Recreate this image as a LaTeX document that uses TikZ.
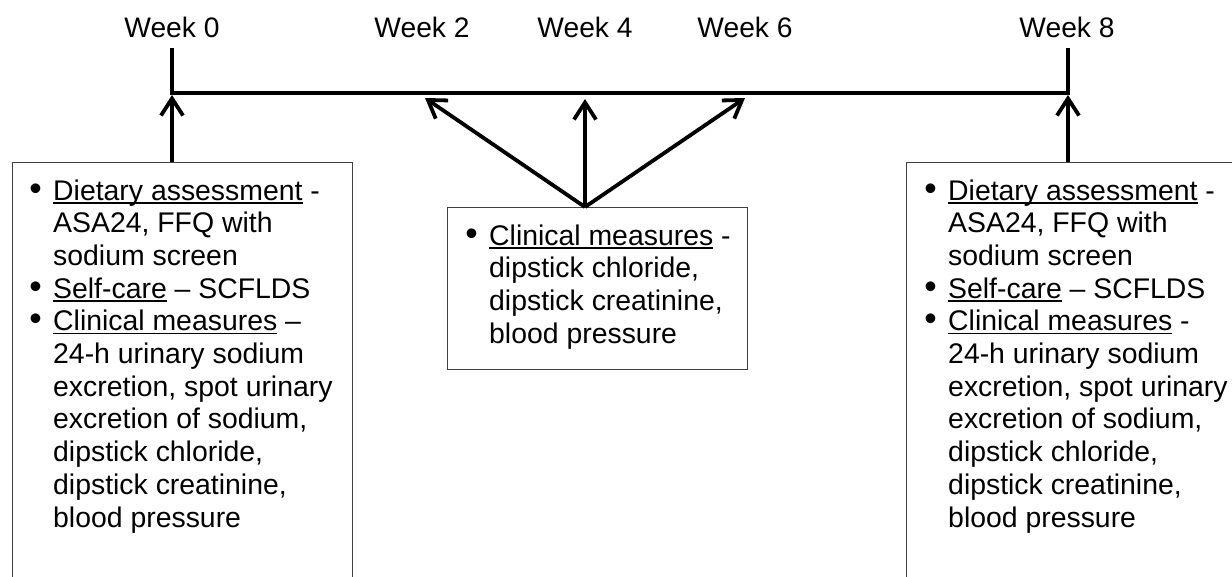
\documentclass[tikz,border=0pt]{standalone}
\usepackage{fontspec}
\setmainfont{Liberation Sans}
\usetikzlibrary{arrows.meta,calc}
\newsavebox\ulbox
\newcommand\myul[1]{\sbox\ulbox{#1}\rlap{\rule[-3.6pt]{\wd\ulbox}{1.8pt}}\usebox\ulbox}
\newcommand\bul{\makebox[17.5pt][l]{\makebox[0pt][c]{\scalebox{1.25}{\textbullet}}}}
\begin{document}
\begin{tikzpicture}[x=1pt,y=-1pt,
  lbl/.style={font=\fontsize{28.2}{32.7}\selectfont, inner sep=0pt, anchor=base},
  txt/.style={font=\fontsize{28.4}{32.7}\selectfont, inner sep=0pt, anchor=base west},
  frame/.style={draw=black!75, line width=1.3pt, rectangle, inner sep=0pt, anchor=north west},
  axis/.style={line width=3.8pt},
  arr/.style={line width=3.8pt, -{Straight Barb[length=17pt,width=22pt]}}
]
\useasboundingbox (0,0) rectangle (1232,576);
\clip (0,0) rectangle (1232,576);

% week labels
\node[lbl] (w0) at (172,37) {Week 0};
\node[lbl] (w2) at (422,37) {Week 2};
\node[lbl] (w4) at (585,37) {Week 4};
\node[lbl] (w6) at (745,37) {Week 6};
\node[lbl] (w8) at (1067,37) {Week 8};

% timeline
\coordinate (t0) at (172,48);
\coordinate (c0) at (172,93);
\coordinate (c8) at (1068,93);
\coordinate (t8) at (1068,48);
\draw[axis] (t0) -- (c0) -- (c8) -- (t8);

% arrow tips on the timeline
\coordinate (a0) at (172,95);
\coordinate (a2) at (425,98);
\coordinate (a4) at (585,99);
\coordinate (a6) at (745,98);
\coordinate (a8) at (1068,95);

% boxes
\node[frame, minimum width=340pt, minimum height=480pt] (b0) at (12,162) {};
\node[frame, minimum width=300pt, minimum height=162pt] (b4) at (447,207) {};
\node[frame, minimum width=400pt, minimum height=480pt] (b8) at (906,162) {};

\coordinate (s0) at ($(b0.north west)+(160,0)$);
\coordinate (s4) at ($(b4.north west)+(138,0)$);
\coordinate (s8) at ($(b8.north west)+(162,0)$);

\draw[arr] (s0) -- (a0);
\draw[arr] (s4) -- (a2);
\draw[arr] (s4) -- (a4);
\draw[arr] (s4) -- (a6);
\draw[arr] (s8) -- (a8);

% texts
\node[txt] (x0) at (35.5,200) {\begin{tabular}[t]{@{}l@{}l@{}}
\bul & \myul{Dietary assessment} -\\
 & ASA24, FFQ with\\
 & sodium screen\\
\bul & \myul{Self-care} -- SCFLDS\\
\bul & \myul{Clinical measures} --\\
 & 24-h urinary sodium\\
 & excretion, spot urinary\\
 & excretion of sodium,\\
 & dipstick chloride,\\
 & dipstick creatinine,\\
 & blood pressure
\end{tabular}};

\node[txt] (x4) at (471.5,245) {\begin{tabular}[t]{@{}l@{}l@{}}
\bul & \myul{Clinical measures} -\\
 & dipstick chloride,\\
 & dipstick creatinine,\\
 & blood pressure
\end{tabular}};

\node[txt] (x8) at (930.5,200) {\begin{tabular}[t]{@{}l@{}l@{}}
\bul & \myul{Dietary assessment} -\\
 & ASA24, FFQ with\\
 & sodium screen\\
\bul & \myul{Self-care} -- SCFLDS\\
\bul & \myul{Clinical measures} -\\
 & 24-h urinary sodium\\
 & excretion, spot urinary\\
 & excretion of sodium,\\
 & dipstick chloride,\\
 & dipstick creatinine,\\
 & blood pressure
\end{tabular}};
\end{tikzpicture}
\end{document}
